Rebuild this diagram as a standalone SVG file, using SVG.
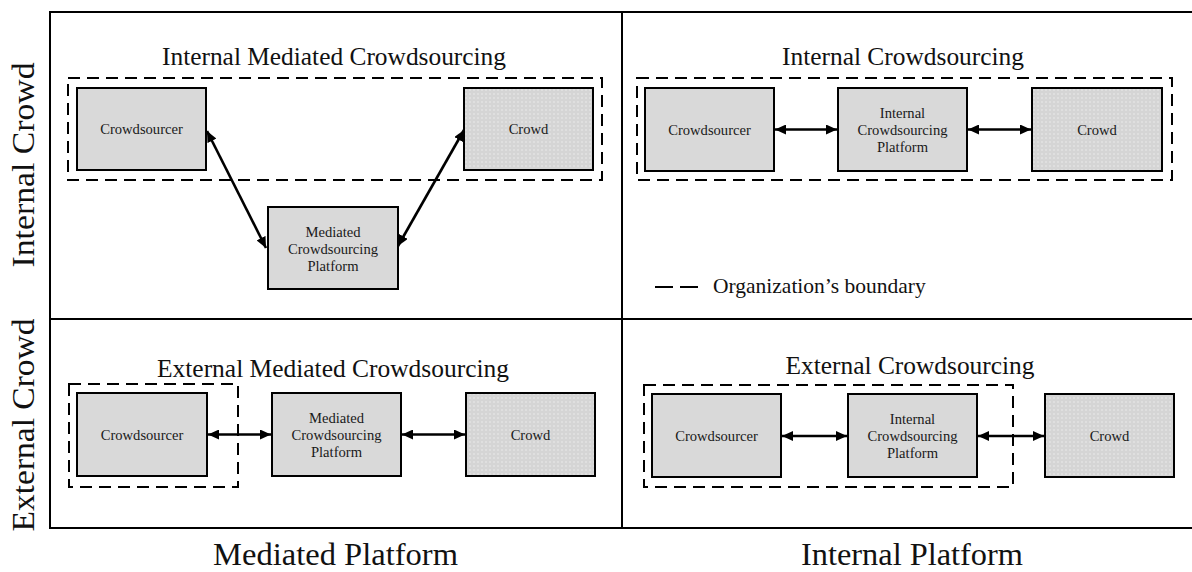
<svg xmlns="http://www.w3.org/2000/svg" width="1192" height="572" viewBox="0 0 1192 572">
  <style>
    .frame { fill: none; stroke: #000; stroke-width: 2; }
    .box { fill: #d9d9d9; stroke: #000; stroke-width: 2; }
    .crowd { fill: url(#dots); stroke: #000; stroke-width: 2; }
    .boundary { fill: none; stroke: #000; stroke-width: 2; stroke-dasharray: 12 7; }
    .link { stroke: #000; stroke-width: 2.6; fill: none; marker-start: url(#head); marker-end: url(#head); }
    .lbl { font-family: "Liberation Serif", "Times New Roman", serif; font-size: 14.6px; fill: #1a1a1a; text-anchor: middle; }
    .title { font-family: "Liberation Serif", "Times New Roman", serif; font-size: 25px; fill: #111; text-anchor: middle; }
    .axis { font-family: "Liberation Serif", "Times New Roman", serif; font-size: 31px; fill: #111; text-anchor: middle; }
    .legend { font-family: "Liberation Serif", "Times New Roman", serif; font-size: 21.5px; fill: #111; }
  </style>
  <defs>
    <pattern id="dots" width="4" height="4" patternUnits="userSpaceOnUse">
      <rect width="4" height="4" fill="#d5d5d5"/>
      <circle cx="2" cy="2" r="0.7" fill="#f2f2f2"/>
    </pattern>
    <marker id="head" markerUnits="userSpaceOnUse" markerWidth="11" markerHeight="10" refX="11" refY="5" orient="auto-start-reverse">
      <path d="M0,0 L11,5 L0,10 z" fill="#000"/>
    </marker>
  </defs>

  <rect width="1192" height="572" fill="#fff"/>

  <!-- 2x2 matrix frame -->
  <g id="matrix">
    <rect class="frame" x="50" y="12" width="1143" height="516"/>
    <line class="frame" x1="622" y1="12" x2="622" y2="528"/>
    <line class="frame" x1="50" y1="319" x2="1193" y2="319"/>
  </g>

  <!-- axis labels -->
  <g id="axis-labels">
    <text class="axis" transform="translate(34,165) rotate(-90)" font-size="29" textLength="205" lengthAdjust="spacingAndGlyphs">Internal Crowd</text>
    <text class="axis" transform="translate(34,425) rotate(-90)" font-size="29" textLength="213" lengthAdjust="spacingAndGlyphs">External Crowd</text>
    <text class="axis" x="335.5" y="565" textLength="245" lengthAdjust="spacingAndGlyphs">Mediated Platform</text>
    <text class="axis" x="912" y="565" textLength="222" lengthAdjust="spacingAndGlyphs">Internal Platform</text>
  </g>

  <!-- quadrant titles -->
  <g id="titles">
    <text class="title" x="334" y="65" textLength="344" lengthAdjust="spacingAndGlyphs">Internal Mediated Crowdsourcing</text>
    <text class="title" x="903" y="65" textLength="242" lengthAdjust="spacingAndGlyphs">Internal Crowdsourcing</text>
    <text class="title" x="333" y="377" textLength="352" lengthAdjust="spacingAndGlyphs">External Mediated Crowdsourcing</text>
    <text class="title" x="910" y="374" textLength="249" lengthAdjust="spacingAndGlyphs">External Crowdsourcing</text>
  </g>

  <!-- organization boundaries -->
  <g id="boundaries">
    <rect class="boundary" x="68" y="78" width="534" height="102"/>
    <rect class="boundary" x="637" y="78" width="535" height="102"/>
    <rect class="boundary" x="69" y="384" width="169" height="103"/>
    <rect class="boundary" x="644" y="385" width="369" height="102"/>
  </g>

  <!-- top-left: internal mediated crowdsourcing -->
  <g id="iml-crowdsourcer">
    <rect class="box" x="77" y="88" width="129" height="82"/>
    <text class="lbl" x="141.5" y="134">Crowdsourcer</text>
  </g>
  <g id="iml-crowd">
    <rect class="crowd" x="464" y="88" width="129" height="82"/>
    <text class="lbl" x="528.5" y="134">Crowd</text>
  </g>
  <g id="iml-platform">
    <rect class="box" x="268" y="207" width="130" height="82"/>
    <text class="lbl" x="333" y="237">Mediated</text>
    <text class="lbl" x="333" y="254">Crowdsourcing</text>
    <text class="lbl" x="333" y="271">Platform</text>
  </g>

  <!-- top-right: internal crowdsourcing -->
  <g id="ic-crowdsourcer">
    <rect class="box" x="645" y="88" width="129" height="83"/>
    <text class="lbl" x="709.5" y="134.5">Crowdsourcer</text>
  </g>
  <g id="ic-platform">
    <rect class="box" x="838" y="88" width="129" height="83"/>
    <text class="lbl" x="902.5" y="117.5">Internal</text>
    <text class="lbl" x="902.5" y="134.5">Crowdsourcing</text>
    <text class="lbl" x="902.5" y="151.5">Platform</text>
  </g>
  <g id="ic-crowd">
    <rect class="crowd" x="1032" y="88" width="130" height="83"/>
    <text class="lbl" x="1097" y="134.5">Crowd</text>
  </g>

  <!-- bottom-left: external mediated crowdsourcing -->
  <g id="em-crowdsourcer">
    <rect class="box" x="77" y="393" width="130" height="83"/>
    <text class="lbl" x="142" y="439.5">Crowdsourcer</text>
  </g>
  <g id="em-platform">
    <rect class="box" x="272" y="393" width="129" height="83"/>
    <text class="lbl" x="336.5" y="422.5">Mediated</text>
    <text class="lbl" x="336.5" y="439.5">Crowdsourcing</text>
    <text class="lbl" x="336.5" y="456.5">Platform</text>
  </g>
  <g id="em-crowd">
    <rect class="crowd" x="466" y="393" width="129" height="83"/>
    <text class="lbl" x="530.5" y="439.5">Crowd</text>
  </g>

  <!-- bottom-right: external crowdsourcing -->
  <g id="ec-crowdsourcer">
    <rect class="box" x="652" y="394" width="129" height="83"/>
    <text class="lbl" x="716.5" y="440.5">Crowdsourcer</text>
  </g>
  <g id="ec-platform">
    <rect class="box" x="848" y="394" width="129" height="83"/>
    <text class="lbl" x="912.5" y="423.5">Internal</text>
    <text class="lbl" x="912.5" y="440.5">Crowdsourcing</text>
    <text class="lbl" x="912.5" y="457.5">Platform</text>
  </g>
  <g id="ec-crowd">
    <rect class="crowd" x="1045" y="394" width="129" height="83"/>
    <text class="lbl" x="1109.5" y="440.5">Crowd</text>
  </g>

  <!-- connectors -->
  <g id="connectors">
    <line class="link" x1="207" y1="131" x2="266" y2="248"/>
    <line class="link" x1="464" y1="130" x2="398" y2="246"/>
    <line class="link" x1="775" y1="129.5" x2="837" y2="129.5"/>
    <line class="link" x1="968" y1="129.5" x2="1031" y2="129.5"/>
    <line class="link" x1="208" y1="434.5" x2="271" y2="434.5"/>
    <line class="link" x1="402" y1="434.5" x2="465" y2="434.5"/>
    <line class="link" x1="782" y1="436" x2="847" y2="436"/>
    <line class="link" x1="978" y1="436" x2="1044" y2="436"/>
  </g>

  <!-- legend -->
  <g id="legend">
    <line x1="655" y1="287" x2="698" y2="287" stroke="#000" stroke-width="2" stroke-dasharray="18 7"/>
    <text class="legend" x="713" y="293">Organization’s boundary</text>
  </g>
</svg>
